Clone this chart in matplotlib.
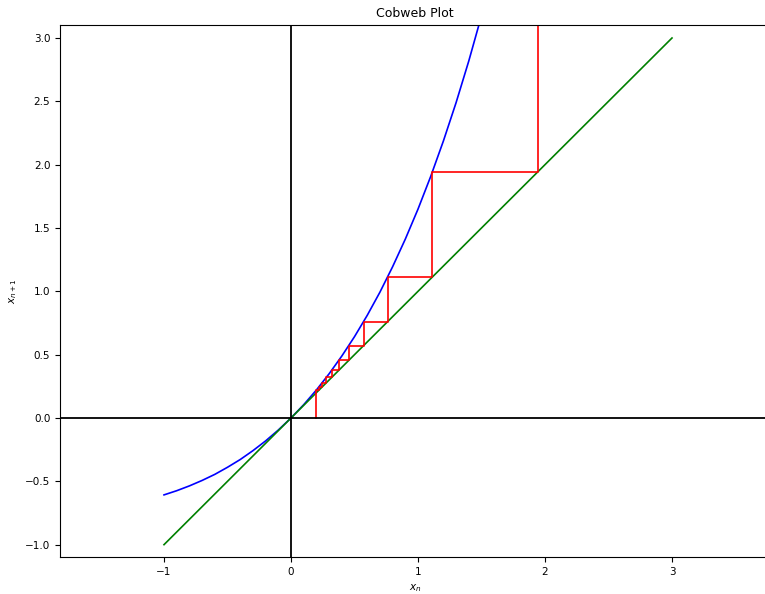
import matplotlib
matplotlib.use("Agg")
import matplotlib.pyplot as plt

curve_x = [-1.0, -0.9, -0.8, -0.7, -0.6, -0.5, -0.4, -0.3, -0.2, -0.1, 0.0,
           0.1, 0.2, 0.3, 0.4, 0.5, 0.6, 0.7, 0.8, 0.9, 1.0, 1.1, 1.2, 1.3,
           1.4, 1.5, 1.6]
curve_y = [-0.607, -0.574, -0.536, -0.493, -0.445, -0.389, -0.328, -0.258,
           -0.181, -0.095, 0.0, 0.105, 0.221, 0.349, 0.489, 0.642, 0.810,
           0.993, 1.194, 1.412, 1.649, 1.907, 2.187, 2.490, 2.819, 3.176,
           3.561]

# Identity line endpoints
diag_x = [-1.0, 3.0]
diag_y = [-1.0, 3.0]

# Cobweb iterates
iterates = [0.2, 0.221, 0.247, 0.279, 0.321, 0.377, 0.455, 0.572, 0.761,
            1.113, 1.943, 5.12]

web_x = [iterates[0]]
web_y = [0.0]
for a, b in zip(iterates[:-1], iterates[1:]):
    web_x += [a, b]
    web_y += [b, b]
web_x = web_x[:-1]
web_y = web_y[:-1]

plt.rcParams['font.size'] = 7.5
fig = plt.figure(figsize=(7.65, 5.94), dpi=100)
W, H = 765, 594
ax = fig.add_axes([60 / W, (H - 557) / H, (770 - 60) / W, (557 - 25) / H])

ax.plot(curve_x, curve_y, color='b', lw=1.2)
ax.plot(diag_x, diag_y, color='g', lw=1.2)
ax.plot(web_x, web_y, color='r', lw=1.2)
ax.axhline(0, color='k', lw=1.3)
ax.axvline(0, color='k', lw=1.3)

ax.set_xlim((60 - 291) / 127, (770 - 291) / 127)
ax.set_ylim(-(557 - 418) / 126.67, (418 - 25) / 126.67)
ax.set_xticks([-1, 0, 1, 2, 3])
ax.set_yticks([-1.0, -0.5, 0.0, 0.5, 1.0, 1.5, 2.0, 2.5, 3.0])
ax.set_xlabel('$x_n$', fontsize=7.5)
ax.set_ylabel('$x_{n+1}$', fontsize=7.5)
ax.set_title('Cobweb Plot', fontsize=9)

fig.savefig('out.png', dpi=100)
